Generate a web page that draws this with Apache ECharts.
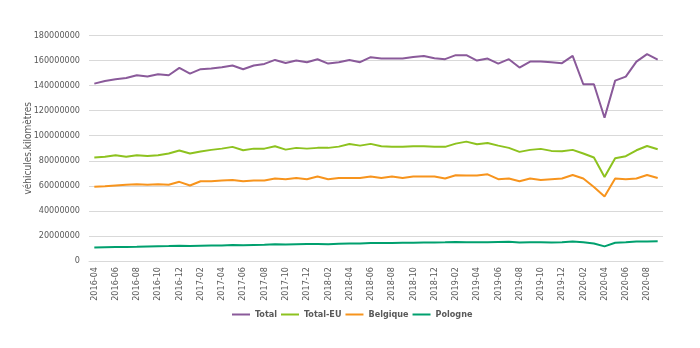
<!DOCTYPE html>
<html>
<head>
<meta charset="utf-8">
<script src="https://cdn.jsdelivr.net/npm/echarts@6/dist/echarts.min.js"></script>
<style>html,body{margin:0;padding:0;background:#fff}#c{width:700px;height:348px}</style>
</head>
<body>
<div id="c"></div>
<script>
var categories = ["2016-04","2016-05","2016-06","2016-07","2016-08","2016-09","2016-10","2016-11","2016-12",
"2017-01","2017-02","2017-03","2017-04","2017-05","2017-06","2017-07","2017-08","2017-09","2017-10","2017-11","2017-12",
"2018-01","2018-02","2018-03","2018-04","2018-05","2018-06","2018-07","2018-08","2018-09","2018-10","2018-11","2018-12",
"2019-01","2019-02","2019-03","2019-04","2019-05","2019-06","2019-07","2019-08","2019-09","2019-10","2019-11","2019-12",
"2020-01","2020-02","2020-03","2020-04","2020-05","2020-06","2020-07","2020-08","2020-09"];

var total = [141600000,143700000,145100000,146100000,148300000,147200000,149100000,148300000,154100000,149600000,
153100000,153600000,154700000,156000000,153100000,156000000,157300000,160500000,158100000,160000000,
158700000,161000000,157600000,158700000,160500000,158700000,162700000,161600000,161600000,161600000,
162900000,163700000,161900000,161100000,164300000,164300000,160000000,161600000,157600000,161100000,
154400000,159200000,159200000,158700000,157900000,163700000,141100000,141100000,114400000,144000000,
147200000,159200000,165100000,160800000];

var totalEU = [82600000,83200000,84500000,83200000,84500000,83900000,84500000,85800000,88200000,85800000,
87400000,88700000,89700000,91100000,88400000,89700000,89700000,91600000,88900000,90300000,
89700000,90300000,90300000,91300000,93400000,92100000,93500000,91600000,91100000,91100000,
91600000,91600000,91100000,91100000,93700000,95300000,93200000,94200000,92100000,90300000,
87100000,88700000,89500000,87900000,87600000,88700000,85800000,82600000,67100000,82100000,
83700000,88400000,91800000,89200000];

var belgique = [59200000,59700000,60300000,60800000,61300000,60800000,61300000,60800000,63200000,60300000,
63700000,63700000,64200000,64700000,63700000,64200000,64200000,65800000,65300000,66300000,
65300000,67400000,65300000,66300000,66300000,66300000,67500000,66300000,67400000,66300000,
67400000,67400000,67400000,65800000,68400000,68200000,68200000,69200000,65300000,65800000,
63700000,65800000,64700000,65300000,65800000,68700000,65800000,59000000,51500000,65800000,
65300000,65800000,68700000,66300000];

var pologne = [10700000,11000000,11100000,11200000,11300000,11600000,11800000,11900000,12100000,12000000,
12200000,12300000,12400000,12700000,12600000,12800000,13000000,13400000,13200000,13400000,
13500000,13600000,13400000,13800000,14000000,13900000,14300000,14300000,14400000,14500000,
14600000,14700000,14800000,14900000,15200000,15000000,14900000,15000000,15200000,15300000,
14800000,15000000,15000000,14800000,15000000,15500000,15000000,14000000,11700000,14600000,
15000000,15500000,15600000,15700000];

var seriesNames = ["Total","Total-EU","Belgique","Pologne"];
var yTicks = [0,20000000,40000000,60000000,80000000,100000000,120000000,140000000,160000000,180000000];
var colors = ["#8A5A9A","#8DC21F","#F7941D","#00A06E"];
var font = "'Liberation Sans Narrow','DejaVu Sans Condensed','Liberation Sans',sans-serif";

var chart = echarts.init(document.getElementById('c'), null, {renderer:'canvas'});
var data = [total, totalEU, belgique, pologne];
chart.setOption({
  animation:false,
  color: colors,
  grid:{left:89,right:37,top:35.5,bottom:87,containLabel:false},
  legend:{
    data: seriesNames, top:305, left:227,
    itemWidth:18, itemHeight:2, itemGap:4,
    icon:'rect',
    textStyle:{color:'#595959',fontSize:9,fontFamily:font,fontWeight:'bold'}
  },
  xAxis:{
    type:'category', data:categories, boundaryGap:true,
    axisLine:{lineStyle:{color:'#D9D9D9'}}, axisTick:{show:false},
    axisLabel:{rotate:90,interval:1,color:'#595959',fontSize:9,fontFamily:font,margin:6}
  },
  yAxis:{
    type:'value', min:yTicks[0], max:yTicks[yTicks.length-1], interval:yTicks[1]-yTicks[0],
    name:'véhicules.kilomètres', nameLocation:'middle', nameGap:56, nameRotate:90, nameMoveOverlap:false,
    nameTextStyle:{color:'#595959',fontSize:10,fontFamily:font},
    axisLine:{show:false}, axisTick:{show:false},
    axisLabel:{color:'#595959',fontSize:9,fontFamily:font,margin:9,formatter:function(v){return String(v);}},
    splitLine:{lineStyle:{color:'#D9D9D9',width:1}}
  },
  series: seriesNames.map(function(n,i){
    return {name:n,type:'line',data:data[i],symbol:'none',lineStyle:{width:2}};
  })
});
</script>
</body>
</html>
